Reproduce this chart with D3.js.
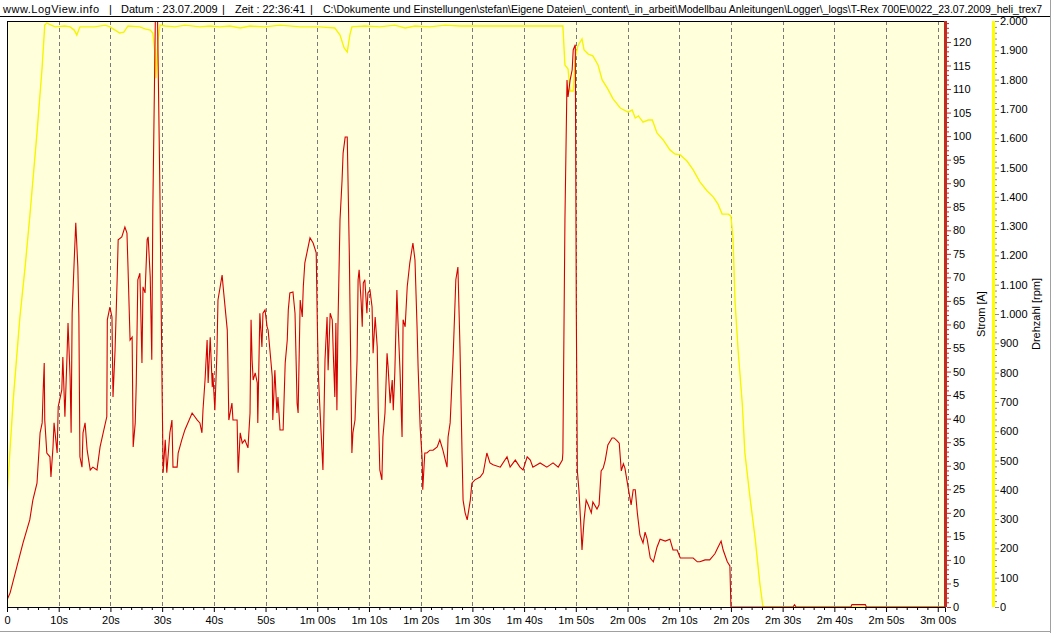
<!DOCTYPE html>
<html><head><meta charset="utf-8">
<script src="https://cdn.jsdelivr.net/npm/d3@7"></script>
<style>
html,body{margin:0;padding:0;background:#fff;}
svg{display:block;font-family:"Liberation Sans",Arial,sans-serif;}
</style></head>
<body>
<svg id="chart" width="1051" height="633"></svg>
<script>
// ---- data (time in seconds) ----
const titleParts = [
  "www.LogView.info", "|", "Datum : 23.07.2009", "|", "Zeit : 22:36:41", "|",
  "C:\\Dokumente und Einstellungen\\stefan\\Eigene Dateien\\_content\\_in_arbeit\\Modellbau Anleitungen\\Logger\\_logs\\T-Rex 700E\\0022_23.07.2009_heli_trex7"
];
const xTickValues = [0,10,20,30,40,50,60,70,80,90,100,110,120,130,140,150,160,170,180];
const stromTickValues = d3.range(0, 121, 5);
const rpmTickValues = d3.range(0, 2001, 100);
const stromLabel = "Strom [A]";
const rpmLabel = "Drehzahl [rpm]";

// Strom [A] over time [s]
const strom = [[0,1.5],[0.6,3.0],[1.9,8.5],[3.1,13.6],[4.4,18.5],[5.0,22.7],[5.8,26.3],[6.4,37.0],[6.8,39.1],[7.0,46.1],[7.2,51.8],[7.3,39.7],[7.7,32.7],[8.3,31.9],[8.5,27.6],[8.9,34.0],[9.1,39.1],[9.7,32.7],[9.9,42.5],[10.6,46.1],[10.8,53.1],[11.2,40.4],[11.6,53.1],[11.8,60.3],[12.2,48.9],[12.4,37.0],[12.6,62.4],[13.0,73.7],[13.3,81.6],[13.7,72.2],[13.9,61.6],[14.1,31.9],[14.5,29.7],[14.7,37.0],[15.1,39.1],[15.5,33.3],[16.1,29.1],[16.6,29.7],[17.4,29.1],[18.0,34.0],[18.6,37.0],[19.3,40.4],[19.4,61.0],[19.9,63.7],[20.3,61.6],[20.5,44.6],[20.9,54.6],[21.3,69.5],[21.5,78.0],[22.2,78.6],[22.8,80.7],[23.2,79.4],[23.4,72.2],[23.8,56.7],[24.2,57.3],[24.4,34.0],[24.8,39.1],[25.0,47.6],[25.3,69.5],[25.7,70.9],[26.1,51.8],[26.3,68.0],[26.7,66.7],[27.1,78.0],[27.3,78.6],[27.7,70.1],[28.0,52.5],[28.2,84.3],[28.7,126],[29.1,126],[29.6,85.8],[30.0,45.5],[30.2,28.5],[30.6,35.5],[30.9,28.5],[31.5,37.0],[31.9,39.7],[32.1,29.7],[32.9,29.7],[33.1,32.7],[33.8,35.5],[34.4,37.6],[35.8,41.2],[36.8,39.7],[37.3,39.1],[37.7,37.0],[37.9,41.8],[38.3,48.2],[38.7,56.7],[38.9,47.6],[39.3,57.3],[39.7,46.7],[39.8,49.7],[40.2,41.8],[40.6,53.9],[40.8,65.2],[41.6,70.5],[41.8,68.0],[42.6,58.8],[42.7,53.1],[42.9,39.7],[43.5,43.3],[43.7,39.7],[44.5,39.7],[44.7,28.5],[45.1,37.0],[45.5,34.8],[46.0,35.5],[46.6,33.8],[47.0,41.2],[47.2,61.0],[47.4,52.5],[47.6,48.2],[48.0,49.7],[48.4,47.6],[48.5,39.1],[48.9,62.4],[49.3,55.2],[49.5,62.4],[49.9,63.1],[50.3,59.5],[50.5,58.8],[50.9,53.9],[51.3,48.9],[51.4,39.7],[51.8,50.3],[52.2,41.2],[52.4,44.6],[52.8,37.6],[53.4,37.6],[53.8,51.8],[54.2,56.7],[54.4,63.1],[54.7,66.7],[55.3,66.9],[55.7,62.4],[56.1,43.3],[56.3,41.2],[56.7,65.2],[57.1,61.6],[57.3,68.0],[57.6,73.1],[58.0,75.2],[58.6,78.4],[59.2,77.3],[59.8,75.2],[60.0,61.0],[60.2,49.7],[60.5,42.5],[61.1,29.1],[61.5,52.5],[61.9,61.6],[62.1,50.3],[62.5,62.4],[62.9,61.0],[63.1,53.9],[63.4,44.6],[63.6,60.3],[63.8,41.8],[64.0,59.5],[64.4,82.2],[64.8,90.7],[65.0,96.4],[65.4,99.8],[65.8,99.8],[66.2,75.2],[66.7,32.7],[66.9,37.0],[67.3,39.7],[67.7,52.5],[67.9,69.5],[68.1,71.6],[68.5,64.6],[68.7,59.5],[68.9,68.8],[69.2,69.5],[69.6,62.4],[69.8,66.7],[70.2,67.3],[70.6,63.7],[70.8,53.9],[71.2,61.6],[71.6,55.2],[71.8,41.8],[72.1,29.1],[72.5,27.0],[72.7,36.1],[73.1,41.2],[73.5,53.9],[73.7,51.0],[74.1,43.3],[74.5,48.2],[74.7,41.8],[75.0,49.7],[75.4,67.3],[75.6,61.0],[76.0,50.3],[76.4,36.1],[76.6,61.0],[77.0,59.5],[77.4,68.0],[77.9,73.1],[78.5,77.3],[78.9,73.7],[79.3,59.5],[79.5,51.0],[79.9,38.2],[80.3,31.2],[80.4,24.9],[80.8,32.7],[81.2,32.7],[81.8,33.3],[82.4,33.3],[83.2,34.0],[83.7,35.5],[84.3,33.3],[85.1,29.7],[85.3,36.1],[85.7,39.1],[86.3,53.9],[86.8,69.5],[87.2,72.2],[87.6,55.2],[88.0,32.7],[88.2,22.7],[88.6,20.0],[89.0,18.5],[89.6,22.7],[89.9,26.3],[90.5,27.0],[91.5,27.6],[92.1,28.5],[92.8,32.7],[93.4,30.6],[94.0,30.2],[95.4,29.7],[96.7,31.9],[97.3,29.7],[98.3,31.2],[99.2,29.7],[99.8,29.1],[100.6,31.9],[101.2,31.2],[101.7,29.7],[103.1,30.6],[104.4,29.7],[105.6,30.6],[106.6,29.7],[107.4,31.2],[107.5,32.7],[107.9,82.2],[108.3,111.9],[108.5,108.3],[108.9,111.9],[109.3,114.1],[109.5,118.3],[109.9,119.4],[110.1,62.4],[110.3,28.9],[110.6,24.9],[111.0,16.8],[111.2,12.1],[111.6,18.5],[112.0,22.7],[112.4,21.7],[113.0,20.0],[113.3,22.3],[114.1,20.8],[114.5,21.7],[114.9,28.9],[115.3,29.5],[115.7,31.2],[116.2,34.4],[117.0,35.9],[117.4,35.9],[118.0,35.3],[118.4,34.8],[118.8,28.9],[119.2,30.4],[119.5,29.5],[120.1,25.5],[120.7,21.7],[121.1,24.9],[121.5,24.9],[121.9,20.0],[122.4,15.3],[123.0,13.6],[123.4,15.9],[123.8,14.4],[124.4,10.4],[125.0,9.6],[125.7,12.7],[126.3,14.4],[127.3,14.0],[128.2,14.4],[128.8,12.1],[129.6,12.1],[130.2,10.4],[131.1,10.4],[132.1,10.4],[132.7,10.4],[133.5,9.6],[134.0,9.6],[135.0,10.0],[135.9,10.0],[136.9,11.3],[137.5,12.7],[138.1,14.0],[138.5,12.1],[139.3,9.6],[139.8,8.7],[140.0,0],[152.0,0],[152.3,0.5],[152.6,0],[163.2,0],[163.4,0.5],[166.0,0.5],[166.2,0],[181.4,0]];

// Drehzahl [rpm] over time [s]
const drehzahl = [[0,375],[1.2,706],[2.5,990],[3.5,1160],[4.4,1331],[5.8,1618],[6.8,1843],[7.3,1986],[7.7,1993],[9.3,1980],[11.2,1983],[12.2,1980],[13.0,1969],[13.5,1952],[14.1,1980],[17.0,1980],[19.0,1986],[19.9,1980],[20.9,1969],[21.8,1959],[22.6,1962],[23.4,1983],[25.7,1980],[26.7,1973],[27.7,1969],[28.2,1959],[28.6,1894],[28.8,1805],[29.2,1935],[29.6,1986],[30.6,1983],[32.5,1980],[34.4,1986],[37.3,1980],[39.3,1983],[41.2,1980],[43.1,1983],[45.1,1976],[47.0,1983],[49.9,1980],[52.8,1986],[56.7,1980],[60.5,1980],[63.4,1976],[64.4,1952],[65.2,1908],[65.8,1894],[66.3,1952],[66.7,1980],[69.2,1983],[72.1,1980],[75.0,1986],[77.0,1976],[78.9,1983],[81.8,1980],[84.7,1986],[87.6,1983],[89.6,1983],[107.5,1983],[107.9,1850],[108.5,1836],[108.9,1761],[109.5,1761],[109.9,1874],[110.4,1915],[111.2,1939],[111.6,1901],[112.4,1887],[113.3,1881],[114.3,1850],[115.1,1799],[116.1,1771],[117.2,1734],[118.6,1703],[120.1,1689],[120.9,1696],[121.5,1669],[122.1,1676],[123.0,1655],[124.0,1662],[124.8,1662],[125.7,1618],[126.9,1594],[128.2,1560],[129.2,1546],[130.2,1543],[131.5,1522],[132.7,1492],[134.0,1451],[135.4,1420],[136.6,1399],[137.5,1375],[138.3,1341],[139.5,1341],[140.0,1334],[140.4,1259],[140.8,1041],[141.4,874],[142.2,693],[142.7,526],[143.7,372],[144.7,232],[145.6,79],[146.2,0],[181.4,0]];

// ---- layout ----
const svg = d3.select("#chart");
const L = 7, R = 945, T = 21, B = 607;
const x = d3.scaleLinear().domain([0, 181.4]).range([L, R]);
const yA = d3.scaleLinear().domain([0, 124.45]).range([B, T]);
const yR = d3.scaleLinear().domain([0, 2000]).range([B, T]);
const de = d3.formatLocale({decimal: ",", thousands: ".", grouping: [3], currency: ["", "€"]});
const fmtRpm = de.format(",");
const fmtTime = t => {
  if (t === 0) return "0";
  if (t < 60) return t + "s";
  const m = Math.floor(t / 60), s = t % 60;
  return m + "m " + String(s).padStart(2, "0") + "s";
};

// title bar
const titleX = [3, 109, 121, 222, 235, 310, 323];
const titles = svg.append("g").selectAll("text").data(titleParts).join("text")
  .attr("x", (d, i) => titleX[i]).attr("y", 12.5)
  .attr("font-size", 11).attr("fill", "#000").text(d => d);
titles.filter((d, i) => i === 0).attr("textLength", 96).attr("lengthAdjust", "spacing");
titles.filter((d, i) => i === titleParts.length - 1).each(function () {
  const len = this.getComputedTextLength();
  const avail = 1043 - 323;
  if (len > avail) d3.select(this).attr("font-size", (11 * avail / len).toFixed(2));
});
svg.append("line").attr("x1", 0).attr("x2", 1051).attr("y1", 16.5).attr("y2", 16.5)
  .attr("stroke", "#000").attr("stroke-width", 1);

// plot background
svg.append("rect").attr("x", L).attr("y", T).attr("width", R - L).attr("height", B - T)
  .attr("fill", "#ffffdc");

// dashed grid
svg.append("g").selectAll("line").data(xTickValues.filter(d => d > 0)).join("line")
  .attr("x1", d => Math.round(x(d)) + 0.5).attr("x2", d => Math.round(x(d)) + 0.5)
  .attr("y1", T).attr("y2", B)
  .attr("stroke", "#7a7a7a").attr("stroke-width", 1).attr("stroke-dasharray", "4,3");

// clip
svg.append("defs").append("clipPath").attr("id", "clip")
  .append("rect").attr("x", L).attr("y", T).attr("width", R - L).attr("height", B - T);

const lineR = d3.line().x(d => x(d[0])).y(d => yR(d[1]));
const lineA = d3.line().x(d => x(d[0])).y(d => yA(d[1]));
const gLines = svg.append("g").attr("clip-path", "url(#clip)");
gLines.append("path").datum(drehzahl).attr("d", lineR)
  .attr("fill", "none").attr("stroke", "#f5f500").attr("stroke-width", 1.4);
gLines.append("path").datum(strom).attr("d", lineA)
  .attr("fill", "none").attr("stroke", "#d40000").attr("stroke-width", 1.1);

// frame
svg.append("line").attr("x1", L + 0.5).attr("x2", L + 0.5).attr("y1", T).attr("y2", B)
  .attr("stroke", "#000");
svg.append("line").attr("x1", L).attr("x2", R).attr("y1", T + 0.5).attr("y2", T + 0.5)
  .attr("stroke", "#000");

// x axis
const xAxis = d3.axisBottom(x).tickValues(xTickValues).tickFormat(fmtTime).tickSize(5).tickPadding(4);
const gx = svg.append("g").attr("transform", `translate(0,${B})`).call(xAxis);
gx.select(".domain").attr("stroke", "#000");
gx.selectAll("text").attr("font-size", 11).attr("font-family", "Liberation Sans, Arial, sans-serif").attr("fill", "#000");
svg.append("g").attr("transform", `translate(0,${B})`)
  .call(d3.axisBottom(x).tickValues(d3.range(0, 181, 2).filter(d => d % 10 !== 0)).tickFormat("").tickSize(3))
  .select(".domain").remove();

// Strom axis (red)
svg.append("rect").attr("x", 944).attr("y", T).attr("width", 3).attr("height", B - T).attr("fill", "#c42a20");
const gA = svg.append("g").attr("transform", "translate(947,0)")
  .call(d3.axisRight(yA).tickValues(stromTickValues).tickSize(4).tickPadding(2));
gA.select(".domain").remove();
gA.selectAll("text").attr("font-size", 11).attr("font-family", "Liberation Sans, Arial, sans-serif");
gA.selectAll("line").attr("stroke", "#b03030");
svg.append("g").attr("transform", "translate(947,0)")
  .call(d3.axisRight(yA).tickValues(d3.range(0, 125, 1).filter(d => d % 5 !== 0)).tickFormat("").tickSize(2))
  .call(g => g.select(".domain").remove())
  .selectAll("line").attr("stroke", "#b03030");
svg.append("text").attr("transform", `translate(985,${(T + B) / 2}) rotate(-90)`)
  .attr("text-anchor", "middle").attr("font-size", 11).text(stromLabel);

// Drehzahl axis (yellow)
svg.append("rect").attr("x", 992).attr("y", T).attr("width", 3).attr("height", B - T).attr("fill", "#ffff00");
const gR = svg.append("g").attr("transform", "translate(995,0)")
  .call(d3.axisRight(yR).tickValues(rpmTickValues).tickFormat(fmtRpm).tickSize(4).tickPadding(1));
gR.select(".domain").remove();
gR.selectAll("text").attr("font-size", 11).attr("font-family", "Liberation Sans, Arial, sans-serif");
gR.selectAll("line").attr("stroke", "#888");
svg.append("g").attr("transform", "translate(995,0)")
  .call(d3.axisRight(yR).tickValues(d3.range(0, 2001, 20).filter(d => d % 100 !== 0)).tickFormat("").tickSize(2))
  .call(g => g.select(".domain").remove())
  .selectAll("line").attr("stroke", "#888");
svg.append("text").attr("transform", `translate(1040,${(T + B) / 2}) rotate(-90)`)
  .attr("text-anchor", "middle").attr("font-size", 11).text(rpmLabel);

// window frame
svg.append("line").attr("x1", 0).attr("x2", 1051).attr("y1", 631.5).attr("y2", 631.5).attr("stroke", "#a0a0a0");
svg.append("line").attr("x1", 1050.5).attr("x2", 1050.5).attr("y1", 0).attr("y2", 633).attr("stroke", "#a0a0a0");
</script>
</body></html>
